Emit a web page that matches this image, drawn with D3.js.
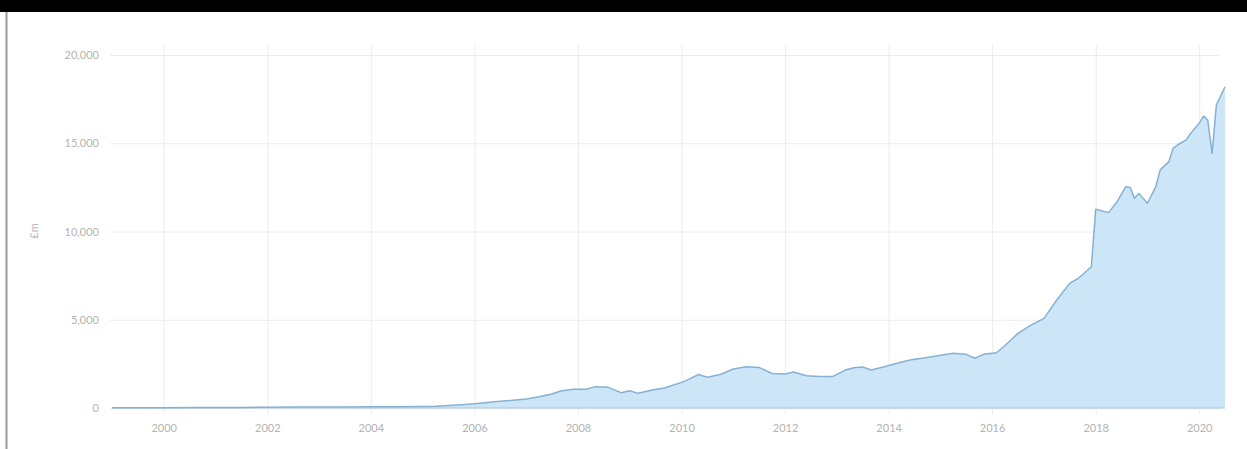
<!DOCTYPE html>
<html>
<head>
<meta charset="utf-8">
<script src="https://cdn.jsdelivr.net/npm/d3@7"></script>
<style>
  body { margin: 0; background: #fff; }
  svg { display: block; }
  .tick text { font-family: Lato, "Open Sans", sans-serif; font-size: 11px; fill: #b3b3b3; }
</style>
</head>
<body>
<svg id="chart" width="1247" height="449"></svg>
<script>
const dates = ["1999-01","1999-07","2000-01","2000-07","2001-01","2001-07","2002-01","2002-07",
  "2003-01","2003-07","2004-01","2004-07","2005-01","2005-04","2005-07","2005-10",
  "2006-01","2006-04","2006-07","2006-10","2007-01","2007-04","2007-07","2007-09","2007-12",
  "2008-03","2008-05","2008-08","2008-11","2009-01","2009-03","2009-06","2009-09",
  "2010-01","2010-02","2010-05","2010-07","2010-10","2011-01","2011-04","2011-07","2011-10",
  "2012-01","2012-03","2012-06","2012-09","2012-12","2013-03","2013-05","2013-07","2013-09","2013-12",
  "2014-03","2014-06","2014-11","2015-04","2015-07","2015-09","2015-11","2016-02","2016-04",
  "2016-07","2016-10","2017-01","2017-04","2017-07","2017-09","2017-12",
  "2018-01","2018-04","2018-06","2018-08","2018-09","2018-10","2018-11",
  "2019-01","2019-03","2019-04","2019-06","2019-07","2019-08","2019-10","2019-11",
  "2020-01","2020-02","2020-03","2020-04","2020-05","2020-07"];
const values = [10,15,20,25,30,35,45,55,
  55,60,65,75,85,100,140,190,
  240,310,380,440,510,640,790,960,1060,
  1060,1210,1170,870,980,830,1000,1130,
  1450,1550,1900,1740,1900,2210,2340,2300,1960,
  1930,2040,1830,1780,1780,2150,2280,2320,2150,2340,
  2530,2720,2910,3100,3040,2820,3040,3130,3540,
  4230,4700,5080,6120,7060,7350,8000,
  11260,11070,11690,12540,12500,11880,12160,
  11600,12540,13490,13960,14710,14900,15190,15560,
  16130,16540,16320,14430,17170,18200];
const yTicks = [0, 5000, 10000, 15000, 20000];
const xTickYears = [2000, 2002, 2004, 2006, 2008, 2010, 2012, 2014, 2016, 2018, 2020];
const yTitle = "£m";

const parse = d3.timeParse("%Y-%m");
const data = dates.map((d, i) => ({ date: parse(d), value: values[i] }));

const svg = d3.select("#chart");
svg.append("rect").attr("x", 0).attr("y", 0).attr("width", 1247).attr("height", 449).attr("fill", "#fff");
svg.append("rect").attr("x", 0).attr("y", 0).attr("width", 1247).attr("height", 12).attr("fill", "#000");
svg.append("line").attr("x1", 6.5).attr("x2", 6.5).attr("y1", 12).attr("y2", 449)
  .attr("stroke", "#9a9a9a").attr("stroke-width", 2);

const x = d3.scaleTime().domain([new Date(1999, 0, 1), new Date(2020, 6, 1)]).range([112, 1225]);
const y = d3.scaleLinear().domain([0, 20000]).range([408, 55]);

// y grid + labels
const yAxis = svg.append("g").attr("transform", "translate(110,0)")
  .call(d3.axisLeft(y).tickValues(yTicks).tickFormat(d3.format(",")).tickSize(-1110).tickPadding(11));
yAxis.select(".domain").remove();
yAxis.selectAll(".tick line").attr("stroke", "#ececec");

// x grid + labels
const xAxis = svg.append("g").attr("transform", "translate(0,414)")
  .call(d3.axisBottom(x).tickValues(xTickYears.map(yr => new Date(yr, 0, 1)))
    .tickFormat(d3.timeFormat("%Y")).tickSize(-369).tickPadding(10));
xAxis.select(".domain").remove();
xAxis.selectAll(".tick line").attr("stroke", "#ececec");

// y title
svg.append("text").attr("transform", "translate(38,231) rotate(-90)")
  .attr("text-anchor", "middle").attr("font-family", "Lato, sans-serif").attr("font-size", 11)
  .attr("fill", "#b8b8b8").text(yTitle);

const area = d3.area().x(d => x(d.date)).y0(y(0)).y1(d => y(d.value));
const line = d3.line().x(d => x(d.date)).y(d => y(d.value));

svg.append("path").datum(data).attr("d", area).attr("fill", "#cce5f7");
svg.append("line").attr("x1", x(data[0].date)).attr("x2", x(data[data.length - 1].date))
  .attr("y1", y(0)).attr("y2", y(0)).attr("stroke", "#a9c6dc").attr("stroke-width", 1);
svg.append("path").datum(data).attr("d", line).attr("fill", "none")
  .attr("stroke", "#86b1d3").attr("stroke-width", 1.5).attr("stroke-linejoin", "round");
</script>
</body>
</html>
